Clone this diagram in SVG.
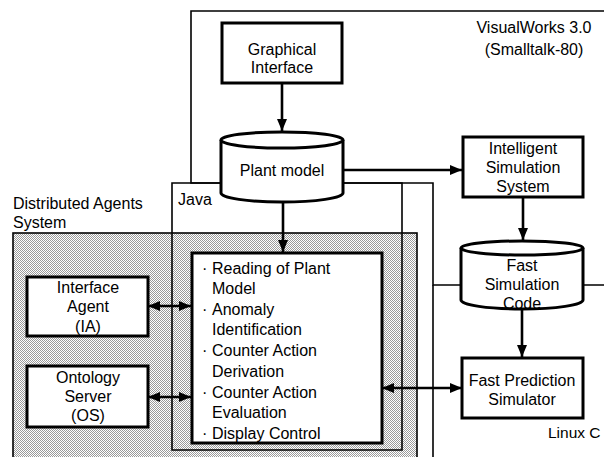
<svg xmlns="http://www.w3.org/2000/svg" width="604" height="457" viewBox="0 0 604 457">
<defs>
<pattern id="dots" width="2" height="2" patternUnits="userSpaceOnUse">
<rect width="2" height="2" fill="#fff"/>
<rect x="0" y="0" width="1" height="1" fill="#9a9a9a"/>
<rect x="1" y="1" width="1" height="1" fill="#9a9a9a"/>
</pattern>
<marker id="ah" viewBox="0 0 12 10" refX="12" refY="5" markerWidth="12" markerHeight="10" markerUnits="userSpaceOnUse" orient="auto-start-reverse">
<path d="M0,0 L12,5 L0,10 Z" fill="#000"/>
</marker>
</defs>
<style>
text{font-family:"Liberation Sans",Arial,sans-serif;font-size:16px;fill:#000}
.c{text-anchor:middle}
.box{fill:#fff;stroke:#000;stroke-width:3}
.frame{fill:none;stroke:#000;stroke-width:1.6}
.conn{fill:none;stroke:#000;stroke-width:2.6}
</style>
<rect width="604" height="457" fill="#fff"/>

<g id="das">
<rect x="13" y="233" width="404" height="230" fill="url(#dots)" stroke="#000" stroke-width="1.6"/>
<text x="13" y="209">Distributed Agents</text>
<text x="13" y="228">System</text>
</g>

<g id="visualworks">
<path class="frame" d="M191,183 V11 H610 V285 H433 V183 Z"/>
<text x="534" y="33" class="c">VisualWorks 3.0</text>
<text x="534" y="55" class="c">(Smalltalk-80)</text>
</g>

<g id="java">
<path class="frame" d="M172,450 V183 H402 V450 Z"/>
<text x="178" y="205">Java</text>
</g>

<g id="linuxc">
<path class="frame" d="M433,285 V460"/>
<text x="548" y="438" style="font-size:15.5px">Linux C</text>
</g>

<g id="connectors">
<line class="conn" x1="282" y1="83" x2="282" y2="131" marker-end="url(#ah)"/>
<line class="conn" x1="343" y1="170" x2="462" y2="170" marker-end="url(#ah)"/>
<line class="conn" x1="523" y1="197" x2="523" y2="240" marker-end="url(#ah)"/>
<line class="conn" x1="522" y1="309" x2="522" y2="357" marker-end="url(#ah)"/>
<line class="conn" x1="283" y1="202" x2="283" y2="252" marker-end="url(#ah)"/>
<line class="conn" x1="382" y1="388" x2="462" y2="388" marker-start="url(#ah)" marker-end="url(#ah)"/>
<line class="conn" x1="148" y1="306" x2="191" y2="306" marker-start="url(#ah)" marker-end="url(#ah)"/>
<line class="conn" x1="148" y1="397" x2="191" y2="397" marker-start="url(#ah)" marker-end="url(#ah)"/>
</g>

<g id="graphical-interface">
<rect class="box" x="222" y="23" width="120" height="60"/>
<text x="282" y="55" class="c">Graphical</text>
<text x="282" y="73" class="c">Interface</text>
</g>

<g id="plant-model">
<path class="box" d="M221,140 V193 A61,9 0 0 0 343,193 V140"/>
<ellipse class="box" cx="282" cy="140" rx="61" ry="8"/>
<text x="282" y="176" class="c">Plant model</text>
</g>

<g id="intelligent-simulation">
<rect class="box" x="463" y="137" width="120" height="60"/>
<text x="523" y="154" class="c">Intelligent</text>
<text x="523" y="173" class="c">Simulation</text>
<text x="523" y="192" class="c">System</text>
</g>

<g id="fast-simulation-code">
<path class="box" d="M461,248 V300 A61,9 0 0 0 583,300 V248"/>
<ellipse class="box" cx="522" cy="248" rx="61" ry="7"/>
<text x="522" y="271" class="c">Fast</text>
<text x="522" y="290" class="c">Simulation</text>
<text x="522" y="309" class="c">Code</text>
</g>

<g id="fast-prediction">
<rect class="box" x="462" y="358" width="121" height="60"/>
<text x="522" y="386" class="c">Fast Prediction</text>
<text x="522" y="405" class="c">Simulator</text>
</g>

<g id="agent-functions">
<rect class="box" x="192" y="253" width="190" height="190"/>
<text x="202" y="274">·</text><text x="212" y="274">Reading of Plant</text>
<text x="212" y="294">Model</text>
<text x="202" y="315">·</text><text x="212" y="315">Anomaly</text>
<text x="212" y="335">Identification</text>
<text x="202" y="356">·</text><text x="212" y="356">Counter Action</text>
<text x="212" y="377">Derivation</text>
<text x="202" y="398">·</text><text x="212" y="398">Counter Action</text>
<text x="212" y="418">Evaluation</text>
<text x="202" y="439">·</text><text x="212" y="439">Display Control</text>
</g>

<g id="interface-agent">
<rect class="box" x="27" y="277" width="121" height="59"/>
<text x="88" y="293" class="c">Interface</text>
<text x="88" y="312" class="c">Agent</text>
<text x="88" y="332" class="c">(IA)</text>
</g>

<g id="ontology-server">
<rect class="box" x="27" y="366" width="121" height="61"/>
<text x="88" y="383" class="c">Ontology</text>
<text x="88" y="402" class="c">Server</text>
<text x="88" y="421" class="c">(OS)</text>
</g>
</svg>
